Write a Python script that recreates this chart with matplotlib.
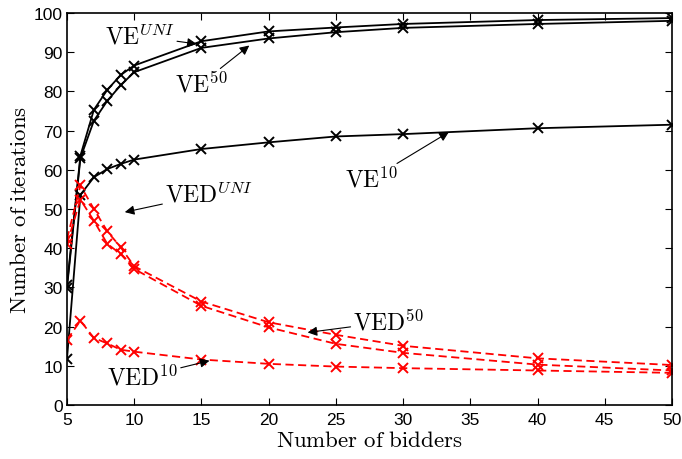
import numpy as np
import matplotlib
matplotlib.use('Agg')
import matplotlib.pyplot as plt

plt.rcParams['mathtext.fontset'] = 'cm'
plt.rcParams['font.family'] = ['Liberation Sans', 'DejaVu Sans']

bidders = [5, 6, 7, 8, 9, 10, 15, 20, 25, 30, 40, 50]

ve_uni = [30.5, 63.6, 75.3, 80.4, 84.2, 86.6, 92.8, 95.3, 96.3, 97.2, 98.2, 98.7]
ve_50 = [29.8, 63.0, 72.5, 77.6, 81.6, 84.9, 91.1, 93.5, 95.1, 96.2, 97.2, 98.0]
ve_10 = [11.7, 53.6, 58.1, 60.2, 61.5, 62.6, 65.3, 67.0, 68.5, 69.1, 70.6, 71.5]

ved_uni = [42.3, 56.0, 50.0, 44.3, 40.2, 35.4, 26.4, 21.1, 17.9, 15.1, 11.9, 10.2]
ved_50 = [41.1, 52.4, 47.0, 41.1, 38.5, 34.7, 25.3, 19.8, 15.6, 13.3, 10.3, 8.8]
ved_10 = [16.6, 21.5, 17.1, 15.7, 14.1, 13.6, 11.6, 10.5, 9.8, 9.4, 8.8, 8.2]

fig = plt.figure(figsize=(6.82, 4.60), dpi=100)
ax = fig.add_axes([0.0982, 0.1174, 0.8871, 0.8522])

for s in [ve_uni, ve_50, ve_10]:
    ax.plot(bidders, s, 'k-', marker='x', ms=6.5, mew=1.4, lw=1.3)
for s in [ved_uni, ved_50, ved_10]:
    ax.plot(bidders, s, 'r--', marker='x', ms=6.5, mew=1.4, lw=1.3, dashes=(4.5, 2.5))

ax.set_xlim(5, 50)
ax.set_ylim(0, 100)
ax.set_xticks(np.arange(5, 51, 5))
ax.set_yticks(np.arange(0, 101, 10))
ax.tick_params(direction='in', top=True, right=True, length=5, width=0.8,
               labelsize=12.5)
ax.tick_params(axis='x', pad=5)
ax.tick_params(axis='y', pad=3)
for sp in ax.spines.values():
    sp.set_linewidth(1.2)

ax.set_xlabel(r'$\mathrm{Number\ of\ bidders}$', fontsize=16.5, labelpad=1)
ax.set_ylabel(r'$\mathrm{Number\ of\ iterations}$', fontsize=16.5, labelpad=2)

arrow = dict(arrowstyle='-|>', color='k', lw=0.8, mutation_scale=14,
             shrinkA=0, shrinkB=0)
notes = [
    (r'$\mathrm{VE}^{UNI}$', (14.65, 92.1), (7.8, 94.1)),
    (r'$\mathrm{VE}^{50}$', (18.56, 91.7), (13.0, 81.9)),
    (r'$\mathrm{VE}^{10}$', (33.4, 69.6), (25.7, 57.7)),
    (r'$\mathrm{VED}^{UNI}$', (9.3, 49.2), (12.3, 53.8)),
    (r'$\mathrm{VED}^{50}$', (22.9, 18.5), (26.3, 21.2)),
    (r'$\mathrm{VED}^{10}$', (15.6, 11.3), (8.0, 7.1)),
]
for txt, tip, pos in notes:
    ax.annotate(txt, xy=tip, xytext=pos, fontsize=17, ha='left', va='center',
                arrowprops=arrow)

fig.savefig('out.png', dpi=100)
